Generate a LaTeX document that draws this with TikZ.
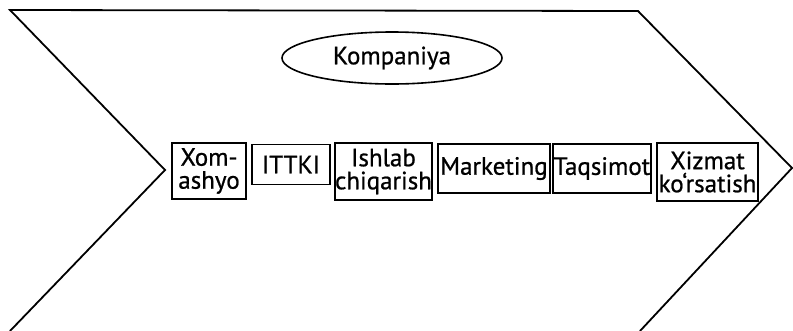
\documentclass[tikz,border=0pt]{standalone}
\usepackage{fontspec}
\setmainfont{PT Sans}[FakeBold=0.8]
\usetikzlibrary{shapes.geometric}
\begin{document}
\begin{tikzpicture}[x=1pt,y=-1pt,
  outline/.style={line width=1.8pt,line join=miter},
  stage/.style={draw,line width=1.6pt,inner sep=0pt,align=center,
     font=\fontsize{25}{23}\selectfont},
  oval/.style={draw,ellipse,line width=1.6pt,inner sep=0pt,
     font=\fontsize{25}{25}\selectfont}]
\useasboundingbox (0,0) rectangle (793,330);
% chevron
\coordinate (tl) at (10,10);
\coordinate (tr) at (638,11);
\coordinate (tip) at (792,168);
\coordinate (br) at (640,331);
\coordinate (bl) at (10,331);
\coordinate (notch) at (165,170);
\draw[outline] (bl) -- (notch) -- (tl) -- (tr) -- (tip) -- (br);
% company
\node[oval,minimum width=220pt,minimum height=52pt] (komp) at (392,58) {Kompaniya};
% stages
\node[stage,minimum width=74pt,minimum height=56pt] (xom) at (209,171) {Xom-\\ashyo};
\node[stage,minimum width=78pt,minimum height=40pt] (ittki) at (291,164.5) {ITTKI};
\node[stage,minimum width=97pt,minimum height=57pt] (ishlab) at (383.5,171.5) {Ishlab\\chiqarish};
\node[stage,minimum width=112pt,minimum height=49pt] (mark) at (494,168.5) {Marketing};
\node[stage,minimum width=98pt,minimum height=49pt] (taq) at (602,168.5) {Taqsimot};
\node[stage,minimum width=101pt,minimum height=58pt] (xiz) at (707.5,172) {Xizmat\\ko‘rsatish};
\end{tikzpicture}
\end{document}
